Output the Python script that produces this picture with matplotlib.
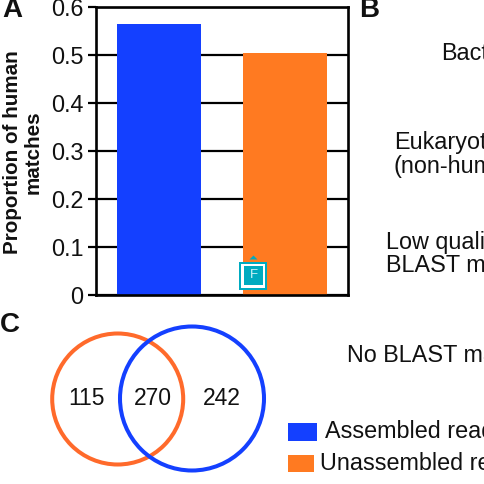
import matplotlib
matplotlib.use("Agg")
import matplotlib.pyplot as plt
from matplotlib.patches import Circle, Rectangle, Polygon

plt.rcParams['font.family'] = ['Liberation Sans', 'DejaVu Sans']

categories = ["Assembled reads", "Unassembled reads"]
proportions = [0.565, 0.505]
yticks = [0, 0.1, 0.2, 0.3, 0.4, 0.5, 0.6]
ytick_labels = ["0", "0.1", "0.2", "0.3", "0.4", "0.5", "0.6"]
venn_counts = [115, 270, 242]
blue = "#1440FF"
orange = "#FF7A21"
W, H = 485, 484

fig = plt.figure(figsize=(W / 100, H / 100), dpi=100, facecolor="white")
ax = fig.add_axes([96 / W, 1 - 294.5 / H, (348 - 96) / W, (294.5 - 7) / H])
ax.set_axisbelow(True)
ax.bar([0, 1], proportions, width=0.665, color=[blue, orange], zorder=2)
ax.set_xlim(-0.5, 1.5)
ax.set_ylim(0, 0.6)
ax.set_xticks([])
ax.set_yticks(yticks)
ax.set_yticklabels(ytick_labels, fontsize=16.8, color="#111111")
ax.tick_params(axis="y", length=6, width=1.6, pad=3)
ax.grid(axis="y", color="black", lw=1.6, zorder=1)
for s in ax.spines.values():
    s.set_linewidth(1.9)

ov = fig.add_axes([0, 0, 1, 1], facecolor="none")
ov.set_xlim(0, W)
ov.set_ylim(H, 0)
ov.axis("off")

ov.text(23, 152.5, "Proportion of human\nmatches", rotation=90, fontsize=14.9,
        fontweight="bold", ha="center", va="center", linespacing=1.1, color="#111111")

for label, x, y in [("A", 12, 10), ("B", 369, 10), ("C", 10, 325)]:
    ov.text(x, y, label, fontsize=20, fontweight="bold", ha="center", va="center", color="#111111")

ov.add_patch(Circle((117.7, 399), 65.5, fill=False, ec="#FF6A2B", lw=2.9))
ov.add_patch(Circle((192, 398.5), 72, fill=False, ec=blue, lw=2.9))
for v, x in zip(venn_counts, [87, 153, 222]):
    ov.text(x, 398.5, str(v), fontsize=16.5, ha="center", va="center", color="#111111")

side = [("Bacteria", 441, 54), ("Eukaryotes", 394, 143), ("(non-human)", 394, 167),
        ("Low quality", 386, 242), ("BLAST matches", 386, 266), ("No BLAST matches", 347, 356)]
for t, x, y in side:
    ov.text(x, y, t, fontsize=16.8, ha="left", va="center", color="#111111")

ov.add_patch(Rectangle((288, 423), 29, 17.5, fc=blue, ec="none"))
ov.add_patch(Rectangle((288, 454.5), 26.5, 17.5, fc=orange, ec="none"))
ov.text(325, 432, categories[0], fontsize=16.8, ha="left", va="center", color="#111111")
ov.text(320, 464, categories[1], fontsize=16.8, ha="left", va="center", color="#111111")

# badge
teal = "#00ABC0"
ov.add_patch(Rectangle((241, 263), 25, 25, fc="black", ec="none", alpha=0.12, zorder=4))
ov.add_patch(Rectangle((239.5, 261.5), 28, 28, fc=teal, ec="none", zorder=5))
ov.add_patch(Rectangle((241.5, 263.5), 24, 24, fc="white", ec="none", zorder=6))
ov.add_patch(Rectangle((244, 266), 19, 19, fc=teal, ec="none", zorder=7))
ov.add_patch(Polygon([[249.5, 259.5], [257.5, 259.5], [253.5, 255.5]], fc=teal, ec="none", zorder=5))
ov.text(253.5, 275.5, "F", fontsize=9.5, color="#CFF3F7", ha="center", va="center", zorder=8)

fig.savefig("out.png", dpi=100)
